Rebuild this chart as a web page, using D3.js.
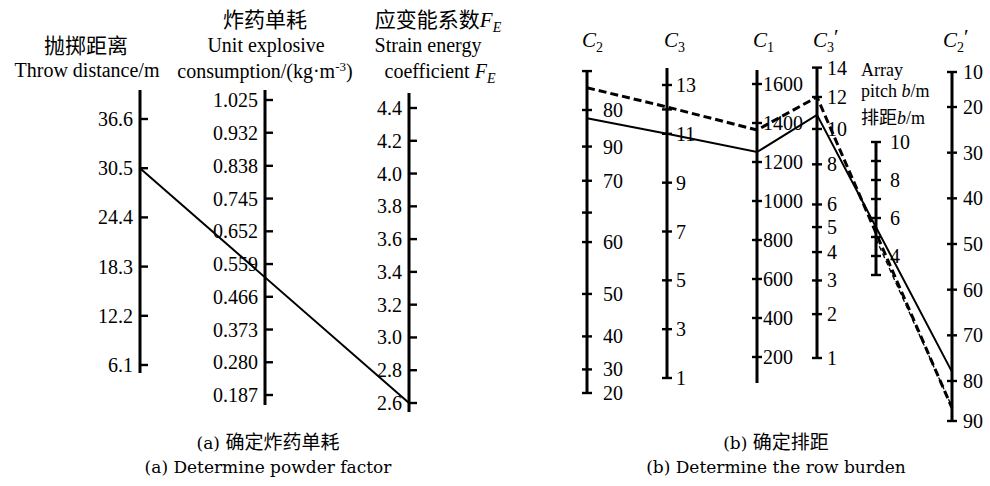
<!DOCTYPE html>
<html>
<head>
<meta charset="utf-8">
<script src="https://cdn.jsdelivr.net/npm/d3@7"></script>
<style>
  body { margin: 0; background: #fff; }
  text { font-family: "Liberation Serif", "Times New Roman", serif; fill: #000; }
  .cjk { font-family: "Noto Sans CJK SC", sans-serif; }
</style>
</head>
<body>
<div id="chart"></div>
<script>
// ---------- panel (a) values ----------
const throwTicks = [36.6, 30.5, 24.4, 18.3, 12.2, 6.1];
const powderTicks = [1.025, 0.932, 0.838, 0.745, 0.652, 0.559, 0.466, 0.373, 0.280, 0.187];
const strainTicks = [4.4, 4.2, 4.0, 3.8, 3.6, 3.4, 3.2, 3.0, 2.8, 2.6];
const lineA = { throwDist: 30.5, strain: 2.6 };

// ---------- panel (b) values ----------
const c2Ticks = [85, 80, 75, 70, 65, 60, 50, 40, 30, 20];
const c2Labels = ["", "80", "90", "70", "", "60", "50", "40", "30", "20"]; // as printed
const c3Ticks = [13, 12, 11, 9, 7, 5, 3, 1];
const c3Labels = ["13", "", "11", "9", "7", "5", "3", "1"];
const c1Ticks = [1600, 1400, 1200, 1000, 800, 600, 400, 200];
const c3pTicks = [14, 12, 10, 8, 6, 5, 4, 3, 2, 1];
const pitchTicks = [10, 9, 8, 7, 6, 5, 4, 3];
const pitchLabels = ["10", "", "8", "", "6", "", "4", ""];
const c2pTicks = [10, 20, 30, 40, 50, 60, 70, 80, 90];

const solidRead = { c2: 78.9, c3: 11.0, c1: 1251, c3p: 10.86, c2p: 78 };
const dashRead = { c2: 82.9, c3: 12.1, c1: 1364, c3p: 12, c2p: 86.75 };
const thinRead = { pitch: 4.9, c2p: 86.5 };

const W = 990, H = 486;
const svg = d3.select("#chart").append("svg")
    .attr("width", W).attr("height", H)
    .style("background", "#fff");

// ---------- scales ----------
const yThrow = d3.scaleLinear().domain([36.6, 6.1]).range([119, 365]);
const yPowder = d3.scaleLinear().domain([1.025, 0.187]).range([100, 395]);
const yStrain = d3.scaleLinear().domain([4.4, 2.6]).range([108, 403]);

const yC2 = d3.scalePow().exponent(2).domain([20, 80]).range([393, 110]);
const yC3 = d3.scaleLinear().domain([13, 1]).range([85, 378]);
const yC1 = d3.scaleLinear().domain([1600, 200]).range([84, 357]);
const yC3p = d3.scaleSqrt().domain([1, 12]).range([358, 97]);
const yPitch = d3.scaleLinear().domain([10, 3]).range([142, 275]);
const yC2p = d3.scaleLinear().domain([10, 20, 80, 90]).range([72, 107, 381, 421]);

const xA = { throwDist: 140, powder: 265, strain: 409 };
const xB = { c2: 587, c3: 667, c1: 757, c3p: 817, pitch: 876, c2p: 952 };

// one nomogram axis: spine, ticks, labels
function axis(x, y, ticks, o) {
    let g = svg.append("g");
    let top = y(ticks[0]) - (o.padTop || 0),
        bot = y(ticks[ticks.length - 1]) + (o.padBottom || 0);
    g.append("line")
        .attr("x1", x).attr("x2", x).attr("y1", top).attr("y2", bot)
        .attr("stroke", "#000").attr("stroke-width", 3);
    g.selectAll(null).data(ticks).join("line")
        .attr("x1", o.cross ? x - 5 : x).attr("x2", o.cross ? x + 5 : x + 8)
        .attr("y1", d => y(d)).attr("y2", d => y(d))
        .attr("stroke", "#000").attr("stroke-width", 2.4);
    g.selectAll(null).data(ticks).join("text")
        .attr("x", o.left ? x - 7 : x + o.dx)
        .attr("y", d => y(d))
        .attr("dy", "0.35em")
        .attr("text-anchor", o.left ? "end" : "start")
        .style("font-size", "20px")
        .text((d, i) => o.labels ? o.labels[i] : o.fmt(d));
}

// ---------- panel (a) ----------
axis(xA.throwDist, yThrow, throwTicks, { left: true, padTop: 29, padBottom: 8, fmt: d3.format(".1f") });
axis(xA.powder, yPowder, powderTicks, { left: true, padTop: 10, padBottom: 10, fmt: d3.format(".3f") });
axis(xA.strain, yStrain, strainTicks, { left: true, padTop: 15, padBottom: 9, fmt: d3.format(".1f") });

svg.append("line")
    .attr("x1", xA.throwDist).attr("y1", yThrow(lineA.throwDist))
    .attr("x2", xA.strain).attr("y2", yStrain(lineA.strain))
    .attr("stroke", "#000").attr("stroke-width", 2);

// titles (a)
function title(x, y, parts, size, anchor) {
    let t = svg.append("text").attr("x", x).attr("y", y)
        .attr("text-anchor", anchor || "middle").style("font-size", size + "px");
    parts.forEach(p => {
        let s = t.append("tspan").text(p.t);
        if (p.cjk) s.attr("class", "cjk");
        if (p.i) s.style("font-style", "italic");
        if (p.dy) s.attr("dy", p.dy);
        if (p.fs) s.style("font-size", p.fs + "px");
    });
    return t;
}
title(86, 53, [{ t: "抛掷距离", cjk: true }], 21);
title(87, 77, [{ t: "Throw distance/m" }], 20);
title(265, 27, [{ t: "炸药单耗", cjk: true }], 21);
title(266, 52, [{ t: "Unit explosive" }], 20);
title(265, 78, [{ t: "consumption/(kg·m" }, { t: "-3", dy: -7, fs: 13 }, { t: ")", dy: 7 }], 20);
title(438, 27, [{ t: "应变能系数", cjk: true }, { t: "F", i: true }, { t: "E", i: true, dy: 5, fs: 14 }], 21);
title(428, 52, [{ t: "Strain energy" }], 20);
title(440, 78, [{ t: "coefficient " }, { t: "F", i: true }, { t: "E", i: true, dy: 5, fs: 14 }], 20);

// ---------- panel (b) ----------
axis(xB.c2, yC2, c2Ticks, { cross: true, dx: 16, labels: c2Labels });
axis(xB.c3, yC3, c3Ticks, { cross: true, dx: 9, padTop: 17, labels: c3Labels });
axis(xB.c1, yC1, c1Ticks, { cross: true, dx: 6, padTop: 14, padBottom: 26, fmt: d3.format("d") });
axis(xB.c3p, yC3p, c3pTicks, { cross: true, dx: 10, fmt: d3.format("d") });
axis(xB.pitch, yPitch, pitchTicks, { cross: true, dx: 14, labels: pitchLabels });
axis(xB.c2p, yC2p, c2pTicks, { cross: true, dx: 11, fmt: d3.format("d") });

const line = d3.line().x(d => d[0]).y(d => d[1]);
function readPoints(r) {
    return [
        [xB.c2, yC2(r.c2)], [xB.c3, yC3(r.c3)], [xB.c1, yC1(r.c1)],
        [xB.c3p, yC3p(r.c3p)], [xB.c2p, yC2p(r.c2p)]
    ];
}
svg.append("path").attr("d", line(readPoints(solidRead)))
    .attr("fill", "none").attr("stroke", "#000").attr("stroke-width", 2);
svg.append("path").attr("d", line(readPoints(dashRead)))
    .attr("fill", "none").attr("stroke", "#000").attr("stroke-width", 3)
    .attr("stroke-dasharray", "8,4");
svg.append("path").attr("d", line([[xB.pitch, yPitch(thinRead.pitch)], [xB.c2p, yC2p(thinRead.c2p)]]))
    .attr("fill", "none").attr("stroke", "#000").attr("stroke-width", 1.3)
    .attr("stroke-dasharray", "5,3");

// headers (b)
function cHead(x, sub, prime) {
    let parts = [{ t: "C", i: true }, { t: sub, dy: 5, fs: 14 }];
    if (prime) parts.push({ t: "′", dy: -8 });
    title(x, 47, parts, 21, "start");
}
cHead(582, "2");
cHead(664, "3");
cHead(753, "1");
cHead(813, "3", true);
cHead(943, "2", true);

title(861, 76, [{ t: "Array" }], 18, "start");
title(861, 97, [{ t: "pitch " }, { t: "b", i: true }, { t: "/m" }], 18, "start");
title(861, 124, [{ t: "排距", cjk: true }, { t: "b", i: true }, { t: "/m" }], 18, "start");

// ---------- captions ----------
function caption(x, y1, y2, zh, en) {
    svg.append("text").attr("x", x).attr("y", y1).attr("text-anchor", "middle")
        .style("font-size", "19px")
        .call(t => {
            t.append("tspan").text("(" + zh[0] + ") ").style("font-family", "DejaVu Serif").style("font-size", "17px");
            t.append("tspan").attr("class", "cjk").text(zh[1]);
        });
    svg.append("text").attr("x", x).attr("y", y2).attr("text-anchor", "middle")
        .style("font-family", "DejaVu Serif").style("font-size", "17px")
        .text(en);
}
caption(268, 449, 473, ["a", "确定炸药单耗"], "(a) Determine powder factor");
caption(776, 449, 473, ["b", "确定排距"], "(b) Determine the row burden");
</script>
</body>
</html>
